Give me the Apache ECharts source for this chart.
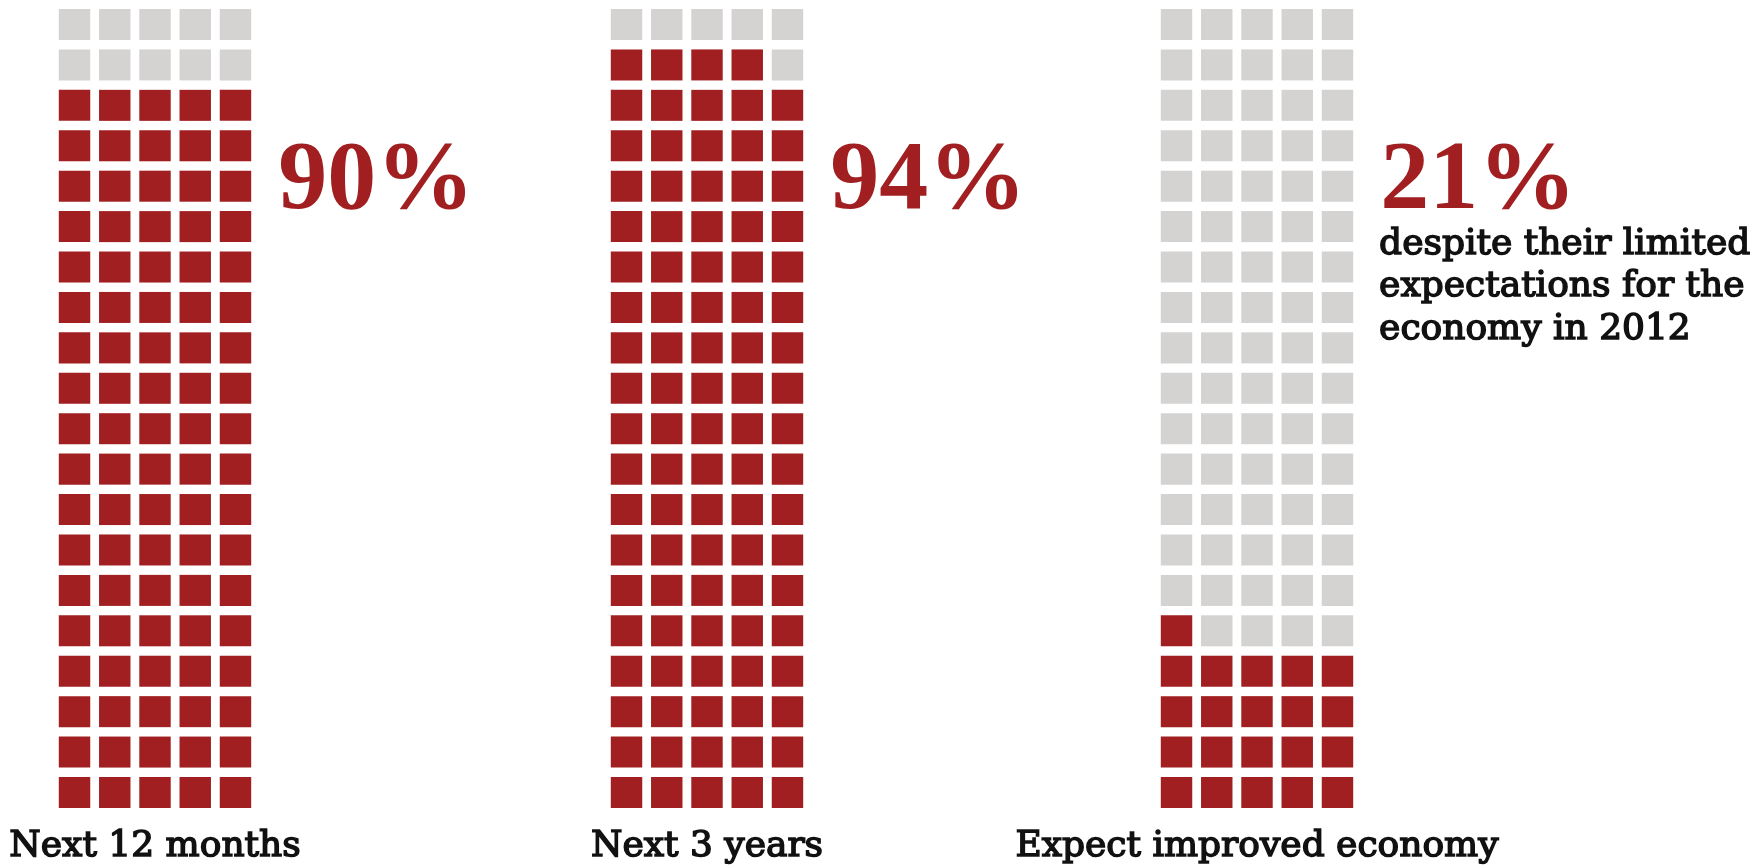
<!DOCTYPE html>
<html>
<head>
<meta charset="utf-8">
<title>Expectations</title>
<script src="https://cdn.jsdelivr.net/npm/echarts@6/dist/echarts.min.js"></script>
<style>
  html, body { margin: 0; padding: 0; background: #ffffff; }
  #chart { width: 1762px; height: 866px; }
</style>
</head>
<body>
<div id="chart"></div>
<script>
// Waffle panels: each panel is a 5 x 20 grid of 100 squares, one per percent.
const categories = ['Next 12 months', 'Next 3 years', 'Expect improved economy'];
const shares = [90, 94, 21];
const shareLabels = ['90%', '94%', '21%'];
const noteLines = ['despite their limited', 'expectations for the', 'economy in 2012'];
const waffleCols = 5;
const waffleRows = 20;

const RED = '#A11F21';
const GREY = '#D4D3D1';
const INK = '#111111';
const SERIF = '"DejaVu Serif", "Liberation Serif", serif';
const NUM_SERIF = '"Liberation Serif", "DejaVu Serif", serif';

// panel layout (pixels)
const panelCenters = [155, 707, 1257];
const panelWidth = 201.2;
const panelTop = 4.3;
const panelHeight = 808.4;
const gapX = 8.8;
const gapY = 9.4;

// one cell per percent, filled from the bottom row upwards, left to right
function cellsFor(share) {
  const out = [];
  for (let i = 0; i < waffleCols * waffleRows; i++) {
    out.push([i % waffleCols, Math.floor(i / waffleCols), i < share ? 1 : 0]);
  }
  return out;
}

function renderCell(params, api) {
  const c = api.coord([api.value(0) + 0.5, api.value(1) + 0.5]);
  const s = api.size([1, 1]);
  const w = s[0] - gapX;
  const h = s[1] - gapY;
  return {
    type: 'rect',
    shape: { x: c[0] - w / 2, y: c[1] - h / 2, width: w, height: h },
    style: { fill: api.value(2) ? RED : GREY }
  };
}

const grids = [], xAxes = [], yAxes = [], series = [], graphics = [];
categories.forEach((name, k) => {
  const left = panelCenters[k] - panelWidth / 2;
  grids.push({ left: left, top: panelTop, width: panelWidth, height: panelHeight });
  xAxes.push({ type: 'value', gridIndex: k, min: 0, max: waffleCols, show: false });
  yAxes.push({ type: 'value', gridIndex: k, min: 0, max: waffleRows, show: false });
  series.push({
    type: 'custom',
    name: name,
    xAxisIndex: k,
    yAxisIndex: k,
    renderItem: renderCell,
    data: cellsFor(shares[k]),
    silent: true
  });
  // big percentage beside the panel
  graphics.push({
    type: 'text',
    x: left + panelWidth + 22.6,
    y: 183,
    style: {
      text: shareLabels[k],
      font: 'bold 98px ' + NUM_SERIF,
      fill: RED,
      align: 'left',
      verticalAlign: 'middle'
    }
  });
  // caption under the panel
  graphics.push({
    type: 'text',
    x: panelCenters[k],
    y: 846.5,
    style: {
      text: name,
      font: '36px ' + SERIF,
      fill: INK,
      stroke: INK,
      lineWidth: 1.5,
      lineJoin: 'round',
      align: 'center',
      verticalAlign: 'middle'
    }
  });
});

// note under the last percentage
graphics.push({
  type: 'text',
  x: panelCenters[2] + panelWidth / 2 + 21.5,
  y: 223,
  style: {
    text: noteLines.join('\n'),
    font: '36px ' + SERIF,
    lineHeight: 42.7,
    fill: INK,
    stroke: INK,
    lineWidth: 1.5,
    lineJoin: 'round',
    align: 'left',
    verticalAlign: 'top'
  }
});

const chart = echarts.init(document.getElementById('chart'), null, { renderer: 'canvas' });
chart.setOption({
  animation: false,
  backgroundColor: '#ffffff',
  grid: grids,
  xAxis: xAxes,
  yAxis: yAxes,
  series: series,
  graphic: graphics
});
</script>
</body>
</html>
